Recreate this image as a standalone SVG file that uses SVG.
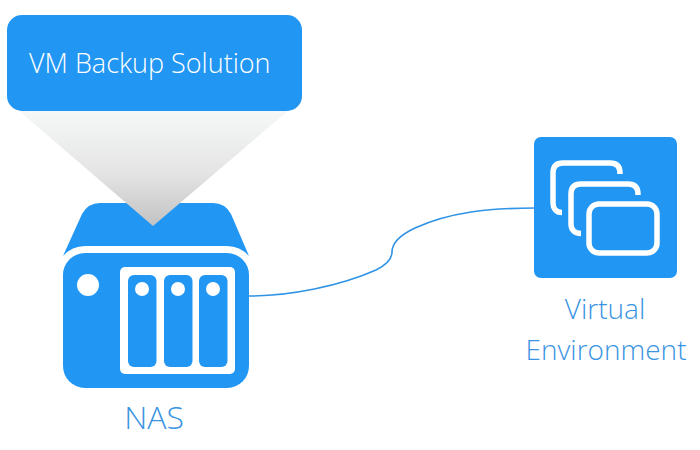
<svg xmlns="http://www.w3.org/2000/svg" width="700" height="450" viewBox="0 0 700 450">
<defs>
<linearGradient id="beam" x1="0" y1="0" x2="0" y2="1"><stop offset="0" stop-color="#f6f8f8"/><stop offset="0.55" stop-color="#e4e4e4"/><stop offset="1" stop-color="#c2c2c2"/></linearGradient>
</defs>
<style>
.b{fill:#2196f3}.w{fill:#fff}
.t{font-family:"Open Sans","Noto Sans","Liberation Sans",sans-serif;font-weight:300}
.l{fill:#3a94e2;text-anchor:middle}
.win{fill:none;stroke:#fff;stroke-width:5.5}
</style>
<rect width="700" height="450" fill="#fff"/>
<g id="connectors"><path d="M249,296 C290,296 340,286 376,270 C388,264 392,258 392,252 C392,245 398,236 415,228 C450,212 490,208 535,208" fill="none" stroke="#2f93e6" stroke-width="1.6"/></g>
<g id="nas">
<path class="b" d="M63,256 L82,214 Q88,203 100,203 L213,203 Q225,203 231,214 L249,256 Q240,246 227,246 L85,246 Q72,246 63,256Z"/>
<rect class="b" x="63" y="253" width="186" height="135" rx="22"/>
<circle class="w" cx="88" cy="285" r="11"/>
<rect class="w" x="120" y="267" width="115" height="107" rx="5"/>
<rect class="b" x="128" y="275" width="28.500" height="92" rx="6"/>
<rect class="b" x="164" y="275" width="28.500" height="92" rx="6"/>
<rect class="b" x="199" y="275" width="28.500" height="92" rx="6"/>
<circle class="w" cx="142" cy="289" r="7"/><circle class="w" cx="178" cy="289" r="7"/><circle class="w" cx="213" cy="289" r="7"/>
<text class="t l" x="154" y="429" font-size="32">NAS</text>
</g>
<g id="backup">
<polygon points="18,110 289,110 153,226" fill="url(#beam)"/>
<rect class="b" x="7" y="15" width="295" height="96" rx="15"/>
<text class="t" x="29" y="73" font-size="27" fill="#fff">VM Backup Solution</text>
</g>
<g id="virtual">
<rect class="b" x="534" y="137" width="143" height="141" rx="7"/>
<path class="win" d="M562,212.500 C556,212.500 553,208 553,203 L553,173 Q553,163 563,163 L610,163 Q620,163 620,173 L620,174"/>
<path class="win" d="M581,233.500 C574,233.500 571,229 571,224 L571,194 Q571,184 581,184 L628,184 Q638,184 638,194 L638,195"/>
<rect class="win" x="589" y="204" width="68" height="49" rx="10"/>
<text class="t l" x="605" y="319" font-size="28">Virtual</text>
<text class="t l" x="606" y="360" font-size="28">Environment</text>
</g>
</svg>
